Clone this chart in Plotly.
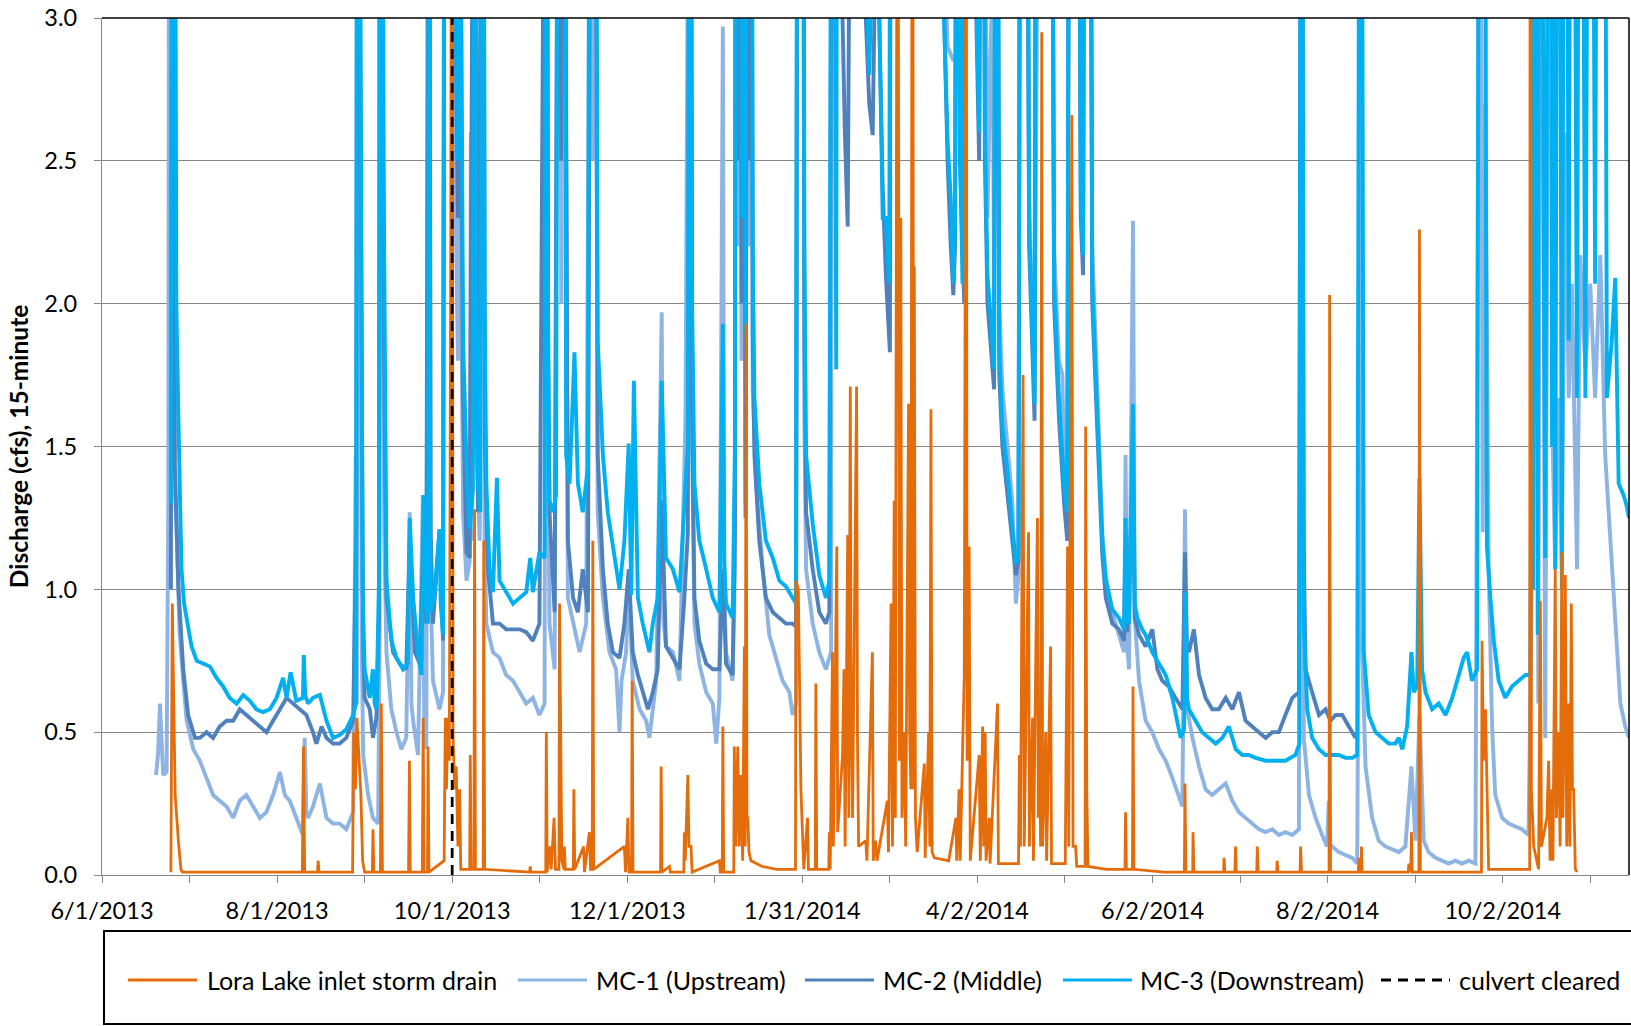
import pandas as pd
import plotly.graph_objects as go

START = "2013-06-01"
END_DAY = 532

# x tick labels (Excel date axis, 61-day major unit)
TICK_DATES = ["2013-06-01", "2013-08-01", "2013-10-01", "2013-12-01", "2014-01-31",
              "2014-04-02", "2014-06-02", "2014-08-02", "2014-10-02"]
TICK_LABELS = ["6/1/2013", "8/1/2013", "10/1/2013", "12/1/2013", "1/31/2014",
               "4/2/2014", "6/2/2014", "8/2/2014", "10/2/2014"]

CULVERT_DATE = "2013-10-01"

# (days since 6/1/2013, discharge cfs); peaks above 3.0 are off-scale
MC3 = [(24.0,1.3),(24.6,6.0),(25.4,4.0),(25.9,2.0),(26.6,1.61),(27.2,1.3),(27.7,1.07),(28.6,0.95),(29.5,0.9),(31.2,0.8),(33.0,0.75),(35.3,0.74),(37.6,0.73),(39.9,0.69),(42.2,0.66),(44.5,0.62),(46.9,0.6),(49.2,0.63),(51.5,0.61),(53.8,0.58),(56.1,0.57),(58.5,0.58),(60.8,0.62),(63.1,0.69),(64.3,0.62),(65.7,0.71),(67.7,0.61),(70.0,0.62),(70.3,0.77),(70.8,0.63),(71.8,0.6),(73.5,0.62),(75.9,0.63),(78.2,0.54),(80.5,0.48),(82.8,0.49),(85.1,0.51),(87.5,0.56),(88.5,0.6),(89.0,6.0),(89.6,4.5),(90.4,2.0),(90.8,1.0),(91.5,0.72),(93.3,0.62),(94.4,0.72),(95.0,0.6),(95.6,0.58),(96.5,1.03),(96.9,6.0),(97.6,5.0),(98.1,2.5),(99.1,1.03),(100.8,0.82),(102.6,0.76),(104.9,0.72),(106.6,0.74),(107.2,1.25),(108.4,0.97),(110.1,0.78),(111.3,0.7),(112.0,1.33),(112.4,1.0),(113.6,0.88),(113.9,6.0),(114.3,1.2),(114.7,0.92),(115.9,0.99),(117.6,1.21),(118.0,0.95),(118.8,0.84),(119.5,6.0),(120.2,4.0),(121.1,6.0),(121.8,4.0),(122.5,3.5),(123.2,3.2),(124.0,2.5),(124.6,6.0),(125.2,3.0),(125.8,1.87),(126.9,1.47),(128.1,1.21),(129.2,1.35),(129.8,6.0),(130.4,2.0),(131.0,1.37),(131.8,1.27),(132.7,6.0),(133.3,2.0),(133.9,1.37),(135.0,1.07),(136.2,0.99),(137.6,1.39),(138.5,1.03),(140.8,0.99),(143.2,0.95),(145.5,0.97),(147.8,0.99),(149.2,1.11),(150.1,0.99),(152.4,1.13),(154.2,1.11),(154.8,6.0),(155.4,2.0),(155.9,1.31),(157.1,1.27),(158.2,1.33),(159.2,6.0),(160.0,3.0),(160.8,6.0),(161.7,1.47),(162.9,1.37),(164.6,1.83),(165.8,1.37),(167.5,1.27),(169.3,1.43),(170.4,6.0),(171.0,3.5),(171.6,6.0),(172.7,1.87),(174.5,1.47),(176.2,1.27),(178.0,1.15),(180.3,1.0),(182.0,1.17),(183.5,1.51),(184.4,0.98),(185.3,1.73),(186.7,0.97),(188.4,0.88),(190.7,0.78),(191.9,0.88),(193.6,0.97),(195.0,1.73),(196.5,1.11),(198.9,1.07),(201.2,0.99),(202.9,1.27),(204.1,1.51),(204.9,6.0),(205.6,2.0),(206.4,1.37),(208.1,1.17),(210.5,1.07),(212.8,0.97),(215.1,0.92),(216.3,1.93),(216.8,1.1),(217.4,0.95),(219.7,0.9),(220.5,1.5),(220.9,6.0),(221.6,3.0),(222.1,6.0),(222.8,2.3),(223.5,6.0),(224.2,1.9),(225.0,6.0),(225.6,3.0),(226.1,6.0),(226.7,2.2),(227.3,1.67),(229.0,1.37),(231.3,1.17),(233.7,1.11),(236.0,1.03),(238.3,1.01),(240.6,0.97),(241.8,0.95),(242.4,6.0),(243.2,4.0),(244.1,6.0),(244.7,2.2),(245.3,1.47),(247.6,1.23),(249.9,1.05),(252.2,0.97),(253.4,1.03),(254.5,6.0),(255.2,3.5),(255.8,1.77),(256.3,6.0),(258.0,4.0),(260.0,3.5),(262.0,4.0),(264.0,3.5),(266.1,3.3),(267.3,2.8),(268.5,3.3),(270.0,3.2),(270.8,3.0),(272.0,2.3),(273.1,2.3),(274.3,2.07),(274.9,6.0),(276.0,4.0),(280.0,4.0),(285.0,4.0),(290.0,4.0),(292.8,3.5),(293.4,3.0),(294.6,2.57),(295.7,2.37),(296.6,2.07),(297.2,2.27),(298.0,6.0),(298.9,2.57),(299.8,2.07),(300.7,6.0),(302.0,4.0),(304.4,3.2),(305.6,2.6),(306.8,6.0),(307.6,2.6),(308.5,2.1),(309.7,1.94),(310.8,1.77),(311.6,6.0),(312.6,1.83),(313.7,1.57),(315.5,1.41),(317.2,1.21),(318.4,1.09),(319.3,1.12),(320.1,6.0),(321.0,4.0),(321.8,6.0),(323.0,2.27),(324.2,1.87),(324.9,1.65),(325.6,6.0),(326.3,3.0),(327.1,6.0),(327.6,3.0),(328.2,6.0),(328.8,3.2),(329.4,6.0),(330.0,3.0),(330.5,6.0),(331.7,2.07),(333.4,1.67),(335.2,1.37),(336.3,1.27),(337.2,6.0),(337.7,3.5),(338.1,6.0),(339.0,3.5),(339.8,6.0),(341.0,2.37),(341.8,2.17),(342.7,6.0),(343.3,3.5),(343.9,6.0),(345.0,2.07),(346.2,1.77),(347.4,1.47),(348.5,1.17),(349.7,1.03),(352.0,0.93),(354.3,0.9),(356.1,0.86),(356.6,1.25),(357.2,0.9),(357.8,0.88),(359.2,1.65),(359.8,0.95),(360.7,0.9),(362.4,0.86),(363.6,0.84),(365.9,0.78),(368.3,0.74),(370.6,0.7),(372.9,0.62),(374.6,0.54),(375.8,0.48),(377.0,0.51),(377.5,0.99),(378.0,0.62),(378.7,0.58),(381.0,0.54),(383.3,0.5),(385.7,0.48),(388.0,0.46),(390.3,0.48),(392.6,0.52),(395.0,0.44),(397.3,0.42),(399.6,0.42),(401.9,0.41),(405.4,0.4),(408.9,0.4),(412.3,0.4),(415.8,0.42),(417.2,0.46),(417.9,6.0),(418.7,0.88),(419.9,0.58),(421.6,0.48),(424.0,0.44),(426.3,0.42),(428.6,0.42),(430.9,0.42),(433.2,0.41),(435.6,0.41),(437.3,0.42),(438.5,6.0),(439.6,0.78),(441.3,0.56),(443.7,0.5),(446.0,0.48),(448.3,0.46),(450.6,0.46),(451.8,0.48),(453.0,0.44),(454.7,0.52),(456.2,0.78),(457.0,0.64),(458.2,0.66),(459.0,1.39),(459.9,0.72),(461.1,0.64),(463.4,0.58),(465.7,0.6),(468.1,0.56),(470.4,0.62),(472.7,0.7),(474.4,0.76),(475.6,0.78),(477.3,0.68),(479.1,0.72),(480.0,6.0),(481.0,4.0),(481.7,6.0),(482.2,2.2),(482.5,1.15),(483.7,0.97),(484.9,0.82),(486.6,0.68),(488.9,0.62),(491.2,0.66),(493.6,0.68),(495.9,0.7),(497.6,0.7),(498.2,1.93),(498.6,1.0),(499.4,6.0),(500.2,0.84),(501.0,6.0),(501.8,3.5),(502.8,1.11),(504.6,6.0),(505.2,1.5),(505.7,6.0),(506.3,1.07),(507.5,6.0),(508.6,1.0),(509.8,6.0),(511.0,1.87),(512.1,6.0),(513.9,1.67),(515.0,6.0),(516.8,1.67),(518.5,6.0),(520.2,2.07),(521.4,6.0),(522.2,3.0),(523.1,6.0),(524.3,1.67),(526.0,1.87),(527.2,2.09),(528.4,1.37),(530.1,1.33),(531.0,1.3),(532.0,1.25)]

MC2 = [(24.0,1.0),(24.6,5.0),(25.4,1.43),(26.6,1.01),(28.3,0.72),(30.0,0.56),(32.4,0.48),(34.1,0.48),(36.4,0.5),(38.7,0.48),(41.0,0.52),(43.4,0.54),(45.7,0.54),(48.0,0.58),(50.3,0.56),(52.7,0.54),(55.0,0.52),(57.3,0.5),(59.6,0.54),(62.0,0.58),(64.3,0.62),(66.6,0.6),(68.9,0.58),(71.2,0.56),(73.5,0.5),(74.7,0.46),(76.5,0.52),(78.2,0.48),(80.5,0.46),(82.8,0.46),(85.1,0.48),(87.5,0.54),(88.6,1.23),(89.0,5.0),(89.6,3.5),(90.4,1.5),(91.0,0.8),(91.5,0.62),(93.3,0.58),(94.4,0.48),(95.6,0.55),(96.5,0.9),(96.9,5.0),(97.6,4.0),(98.1,2.0),(99.1,0.97),(101.4,0.78),(103.7,0.74),(106.0,0.72),(107.2,1.17),(109.0,0.78),(110.7,0.74),(112.0,1.19),(113.0,0.88),(113.9,5.0),(114.5,1.2),(115.3,0.88),(117.6,1.21),(118.8,0.82),(119.5,5.0),(120.5,3.5),(121.1,5.0),(122.0,3.5),(123.0,3.2),(124.0,2.3),(124.6,5.0),(125.2,2.5),(125.8,1.67),(127.0,1.13),(128.1,1.11),(129.8,5.0),(130.4,1.8),(131.0,1.27),(132.7,5.0),(133.4,1.5),(134.5,1.07),(136.2,0.88),(138.5,0.88),(140.8,0.86),(143.2,0.86),(145.5,0.86),(147.8,0.85),(150.1,0.82),(152.4,0.88),(154.8,5.0),(155.4,1.8),(155.9,1.27),(157.7,0.92),(159.2,5.0),(160.0,2.5),(160.8,5.0),(162.3,1.17),(164.1,0.97),(165.8,0.92),(167.5,1.07),(169.3,0.92),(170.4,5.0),(171.0,3.0),(171.6,5.0),(172.7,1.47),(174.5,1.07),(176.2,0.88),(178.0,0.78),(180.3,0.76),(182.0,0.88),(183.5,1.07),(184.9,0.78),(186.7,0.7),(188.4,0.64),(190.2,0.58),(191.9,0.64),(193.6,0.72),(195.0,1.31),(196.5,0.8),(198.9,0.76),(201.2,0.72),(202.9,0.97),(204.1,1.2),(204.9,5.0),(205.6,1.6),(206.4,0.97),(208.1,0.82),(210.5,0.74),(212.8,0.72),(215.1,0.72),(216.3,1.07),(217.4,0.74),(219.7,0.7),(220.5,1.2),(220.9,5.0),(221.6,2.5),(222.1,5.0),(222.8,2.0),(223.5,5.0),(224.2,1.25),(225.0,5.0),(225.6,2.5),(226.1,5.0),(226.7,1.9),(227.3,1.47),(229.0,1.17),(231.3,0.97),(233.7,0.92),(236.0,0.9),(238.3,0.88),(240.6,0.88),(241.8,0.87),(242.4,5.0),(243.2,3.5),(244.1,5.0),(244.7,1.9),(245.3,1.27),(247.6,1.07),(249.9,0.92),(252.2,0.88),(253.4,0.92),(254.5,5.0),(255.5,3.5),(256.3,5.0),(258.0,3.0),(258.8,2.6),(259.8,2.27),(260.5,3.5),(263.0,4.0),(265.0,3.5),(266.1,3.0),(267.3,2.7),(268.5,2.59),(269.5,3.3),(270.8,3.0),(272.0,2.4),(273.1,2.1),(274.5,1.83),(274.9,5.0),(276.0,4.0),(285.0,4.0),(292.8,3.5),(293.4,3.0),(294.6,2.5),(295.7,2.2),(296.6,2.03),(297.2,2.2),(298.0,5.0),(298.9,2.5),(300.4,2.0),(300.7,5.0),(302.0,4.0),(304.4,3.1),(305.6,2.5),(306.8,5.0),(307.6,2.5),(308.5,2.0),(309.7,1.85),(310.8,1.7),(311.6,5.0),(312.6,1.75),(313.7,1.5),(315.5,1.33),(317.2,1.15),(318.4,1.05),(319.3,1.1),(320.1,5.0),(321.0,3.5),(321.8,5.0),(323.0,2.2),(324.2,1.8),(324.9,1.59),(325.6,5.0),(326.3,3.0),(327.1,5.0),(328.2,3.2),(329.4,5.0),(330.5,5.0),(331.7,2.0),(333.4,1.6),(335.2,1.3),(336.3,1.17),(337.2,5.0),(338.1,5.0),(339.0,3.5),(339.8,5.0),(341.0,2.3),(341.8,2.1),(342.7,5.0),(343.9,5.0),(345.0,2.0),(346.2,1.7),(347.4,1.4),(348.5,1.12),(349.7,0.97),(352.0,0.88),(354.3,0.86),(356.1,0.82),(356.6,1.15),(357.2,0.85),(359.2,1.4),(359.8,0.9),(361.3,0.84),(363.6,0.8),(365.9,0.86),(367.7,0.72),(369.4,0.68),(371.7,0.66),(374.0,0.62),(376.4,0.58),(377.3,1.13),(378.0,0.8),(378.7,0.78),(380.4,0.86),(382.2,0.7),(384.5,0.62),(386.8,0.58),(389.1,0.58),(391.5,0.62),(393.8,0.58),(396.1,0.64),(398.4,0.54),(400.7,0.52),(403.1,0.5),(405.4,0.48),(407.7,0.5),(410.0,0.5),(412.3,0.56),(414.7,0.62),(417.0,0.64),(417.9,5.0),(418.6,1.2),(419.3,0.72),(421.6,0.64),(424.0,0.56),(426.3,0.58),(428.0,0.54),(429.8,0.56),(432.1,0.56),(434.4,0.52),(436.7,0.48),(437.5,0.5)]

MC1 = [(18.8,0.35),(19.5,0.42),(20.2,0.6),(21.3,0.35),(22.5,0.36),(23.1,1.3),(23.5,5.0),(24.0,2.0),(24.3,2.7),(24.8,1.5),(26.0,1.2),(27.0,0.85),(28.3,0.68),(29.5,0.54),(31.8,0.44),(34.1,0.4),(36.4,0.34),(38.7,0.28),(41.0,0.26),(43.4,0.24),(45.7,0.2),(48.0,0.26),(50.3,0.28),(52.7,0.24),(55.0,0.2),(57.3,0.22),(59.6,0.28),(62.0,0.36),(63.7,0.28),(65.4,0.26),(67.7,0.2),(70.0,0.14),(70.6,0.48),(71.2,0.22),(71.8,0.2),(73.5,0.24),(75.9,0.32),(78.2,0.2),(80.5,0.18),(82.8,0.18),(85.1,0.16),(87.5,0.22),(88.4,1.47),(88.8,0.6),(89.2,5.0),(89.8,2.5),(90.5,0.8),(91.0,0.42),(92.7,0.28),(94.4,0.2),(96.2,0.18),(96.7,0.8),(97.0,5.0),(97.8,3.0),(98.3,1.2),(99.1,0.78),(100.8,0.58),(102.6,0.5),(104.3,0.44),(106.0,0.48),(107.2,1.27),(107.8,0.6),(108.4,0.54),(110.1,0.42),(111.8,1.33),(112.3,0.5),(113.0,0.44),(113.9,5.0),(114.5,1.0),(115.3,0.68),(117.6,0.58),(118.8,0.64),(119.5,5.0),(120.5,3.0),(121.1,5.0),(122.0,3.0),(123.0,2.5),(124.0,1.8),(124.6,5.0),(125.2,2.0),(125.8,1.27),(127.0,1.03),(128.1,1.1),(128.5,2.6),(129.0,1.17),(129.8,5.0),(130.4,1.5),(131.6,1.17),(132.7,5.0),(133.3,1.2),(133.9,0.88),(136.2,0.78),(138.5,0.76),(140.8,0.7),(143.2,0.68),(145.5,0.64),(147.8,0.6),(150.1,0.62),(152.4,0.56),(154.2,0.6),(154.8,5.0),(155.4,1.5),(155.9,0.88),(157.7,0.72),(159.2,5.0),(160.0,2.0),(160.8,5.0),(162.3,0.97),(164.1,0.88),(166.4,0.78),(168.7,0.88),(170.4,5.0),(171.0,2.5),(171.6,5.0),(172.7,1.27),(174.5,0.97),(176.8,0.78),(179.1,0.72),(180.3,0.5),(181.0,0.68),(182.6,0.78),(183.5,1.03),(184.9,0.68),(187.3,0.58),(189.6,0.54),(190.7,0.48),(193.1,0.68),(195.0,1.97),(195.5,0.9),(196.5,0.8),(198.9,0.78),(201.2,0.68),(203.3,1.61),(204.9,5.0),(205.6,1.5),(206.4,0.88),(208.1,0.74),(210.5,0.64),(212.8,0.6),(214.0,0.46),(215.1,0.62),(216.3,2.97),(216.8,1.0),(217.4,0.78),(219.7,0.68),(220.5,1.07),(220.9,5.0),(221.6,2.2),(222.1,5.0),(222.8,1.8),(223.5,5.0),(224.2,1.3),(225.0,5.0),(225.6,2.2),(226.1,5.0),(226.7,1.7),(227.9,1.37),(230.2,1.07),(232.5,0.84),(234.8,0.76),(237.1,0.68),(239.5,0.64),(240.6,0.56),(241.8,0.6),(242.4,5.0),(243.2,3.0),(244.1,5.0),(244.7,1.6),(245.3,1.07),(247.6,0.88),(249.9,0.78),(252.2,0.72),(254.0,0.78),(254.5,5.0),(256.3,5.0),(260.0,4.0),(270.0,4.0),(274.5,3.5),(276.0,4.0),(292.8,3.5),(294.6,2.9),(296.6,2.85),(298.9,2.9),(300.4,2.8),(301.0,4.0),(304.4,3.2),(306.8,5.0),(308.5,2.3),(310.2,3.2),(310.8,2.0),(311.6,5.0),(312.6,2.0),(313.7,1.7),(315.5,1.5),(317.2,1.3),(318.4,0.95),(319.3,1.05),(320.1,5.0),(321.8,5.0),(323.0,2.4),(324.2,1.9),(324.9,1.75),(325.6,5.0),(327.1,5.0),(328.2,3.5),(329.4,5.0),(330.5,5.0),(331.7,2.2),(333.4,1.8),(334.6,1.75),(335.2,1.4),(336.3,1.27),(337.2,5.0),(338.1,5.0),(339.8,5.0),(341.0,2.5),(342.7,5.0),(343.9,5.0),(345.0,2.2),(346.2,1.85),(347.4,1.5),(348.5,1.2),(349.7,1.05),(352.0,0.92),(354.3,0.84),(356.1,0.78),(356.6,1.47),(357.2,0.8),(357.8,0.72),(359.2,2.29),(359.8,0.9),(361.3,0.68),(363.6,0.54),(365.9,0.5),(368.3,0.44),(370.6,0.4),(372.9,0.34),(375.2,0.28),(376.4,0.24),(377.3,1.28),(377.8,0.7),(378.1,0.58),(379.9,0.48),(382.2,0.38),(384.5,0.3),(386.8,0.28),(389.1,0.3),(391.5,0.32),(393.8,0.26),(396.1,0.22),(398.4,0.2),(400.7,0.18),(403.1,0.16),(405.4,0.15),(407.7,0.16),(410.0,0.14),(412.3,0.15),(414.7,0.14),(417.0,0.16),(417.9,5.0),(418.7,0.48),(420.5,0.28),(422.8,0.2),(425.1,0.14),(426.8,0.1),(427.4,0.26),(428.0,0.1),(428.6,0.1),(430.9,0.08),(433.2,0.07),(435.6,0.06),(437.3,0.04),(438.1,1.47),(438.5,5.0),(439.0,0.8),(440.2,0.38),(442.5,0.2),(444.8,0.12),(447.1,0.1),(449.5,0.09),(451.8,0.08),(454.1,0.1),(456.2,0.38),(457.6,0.12),(459.0,0.56),(460.5,0.12),(462.2,0.08),(464.6,0.06),(466.9,0.05),(469.2,0.04),(471.5,0.05),(473.8,0.04),(476.2,0.05),(478.5,0.04),(480.2,5.0),(481.0,1.2),(482.0,2.7),(483.1,1.07),(484.3,0.52),(485.4,0.28),(487.8,0.2),(490.1,0.18),(492.4,0.17),(494.7,0.16),(497.0,0.14),(498.2,1.07),(499.4,5.0),(500.4,0.6),(501.4,5.0),(502.8,0.48),(504.6,5.0),(505.2,1.6),(506.3,1.07),(507.5,1.67),(508.6,1.07),(509.8,2.6),(511.0,1.67),(512.1,2.07),(513.9,1.07),(515.0,2.17),(516.8,1.77),(518.5,2.07),(520.2,1.67),(522.0,2.17),(523.7,1.47),(526.0,1.07),(527.8,0.78),(529.0,0.6),(530.7,0.52),(532.0,0.48)]

LORA = [(24.0,0.01),(24.5,0.95),(25.0,0.6),(25.5,0.28),(26.6,0.12),(27.5,0.02),(28.0,0.01),(40.0,0.01),(60.0,0.008),(69.8,0.01),(70.2,0.45),(70.6,0.01),(75.1,0.01),(75.3,0.05),(75.6,0.01),(87.3,0.01),(87.7,0.5),(88.3,0.3),(88.8,0.55),(89.5,0.4),(90.2,0.28),(90.8,0.05),(91.5,0.01),(94.2,0.01),(94.4,0.16),(94.7,0.01),(97.0,0.01),(97.3,0.6),(97.7,0.01),(106.8,0.01),(107.1,0.4),(107.4,0.01),(111.6,0.01),(111.9,0.55),(112.2,0.01),(113.4,0.01),(113.6,0.45),(113.9,0.01),(119.2,0.05),(119.6,0.55),(120.0,0.3),(120.5,0.55),(121.0,0.4),(121.5,2.2),(121.9,5.0),(122.3,0.5),(122.8,0.3),(123.4,0.38),(124.0,0.1),(124.6,0.3),(125.0,0.02),(128.1,0.02),(128.3,0.42),(128.6,0.02),(129.6,0.02),(129.8,1.28),(130.1,0.02),(132.8,0.02),(133.0,1.17),(133.3,0.02),(149.0,0.01),(149.2,0.03),(149.4,0.01),(154.6,0.01),(154.8,0.5),(155.1,0.01),(156.0,0.1),(156.5,0.02),(157.5,0.2),(158.0,0.02),(159.2,0.02),(159.4,0.95),(159.8,0.3),(160.2,0.05),(161.0,0.02),(161.1,0.1),(161.4,0.02),(164.2,0.02),(164.4,0.3),(164.7,0.02),(167.8,0.1),(168.1,0.01),(169.8,0.15),(170.2,0.02),(170.8,0.02),(171.0,1.17),(171.3,0.02),(182.0,0.1),(182.4,0.01),(183.2,0.2),(183.6,0.01),(184.5,0.01),(184.7,0.68),(185.0,0.01),(194.6,0.01),(194.8,0.38),(195.1,0.01),(197.7,0.03),(198.0,0.01),(202.7,0.01),(202.9,0.15),(203.2,0.05),(204.1,0.35),(204.5,0.1),(205.2,0.1),(205.6,0.01),(215.1,0.05),(215.4,0.01),(216.1,0.01),(216.3,0.52),(216.6,0.01),(220.1,0.01),(220.3,0.45),(220.8,0.1),(221.5,0.45),(222.0,0.1),(222.6,0.35),(223.2,0.05),(223.8,0.8),(224.1,0.1),(224.4,1.93),(224.7,0.2),(225.0,0.2),(225.4,0.08),(226.1,0.05),(230.0,0.03),(235.0,0.02),(241.6,0.02),(241.8,1.03),(242.6,1.0),(243.5,0.3),(244.1,0.15),(244.5,0.02),(245.8,0.2),(246.1,0.02),(248.5,0.02),(248.7,0.67),(249.0,0.02),(253.2,0.02),(253.4,0.15),(253.7,0.02),(254.5,0.78),(254.8,0.1),(256.0,1.15),(256.3,0.15),(258.0,0.42),(258.5,0.72),(258.9,0.1),(259.8,1.19),(260.2,0.2),(260.7,1.71),(261.0,0.62),(261.5,0.2),(262.9,1.71),(263.2,0.48),(263.6,0.1),(266.1,0.12),(266.5,0.05),(268.4,0.78),(268.7,0.05),(269.5,0.12),(270.0,0.05),(273.6,0.26),(274.0,0.08),(274.9,0.95),(275.4,0.1),(276.0,1.31),(276.4,0.2),(277.2,5.0),(277.8,0.4),(278.3,2.3),(278.7,0.2),(279.5,0.5),(280.0,0.1),(281.0,1.65),(281.4,0.5),(281.8,0.3),(282.4,5.0),(282.8,0.3),(283.0,2.13),(283.4,0.2),(284.0,0.08),(286.5,0.39),(286.8,0.06),(288.0,0.5),(288.4,0.1),(288.8,1.63),(289.2,0.08),(290.0,0.06),(295.0,0.05),(297.5,0.2),(297.8,0.05),(298.6,0.3),(299.0,0.05),(300.4,0.7),(300.7,2.0),(301.0,5.0),(301.4,0.4),(302.1,1.15),(302.5,0.05),(305.6,0.42),(306.0,0.05),(306.8,0.52),(307.2,0.1),(307.7,0.5),(308.0,0.05),(309.1,0.2),(309.4,0.04),(312.0,0.6),(312.3,0.04),(319.3,0.04),(319.6,0.42),(320.0,0.1),(320.9,1.75),(321.3,0.1),(322.8,1.2),(323.1,0.1),(324.2,0.55),(324.5,0.05),(325.9,1.25),(326.2,0.2),(326.5,0.5),(327.0,0.1),(327.4,2.95),(327.7,0.1),(328.8,0.5),(329.1,0.05),(330.5,0.8),(330.8,0.04),(335.6,0.04),(335.8,0.35),(336.4,1.15),(336.8,0.1),(337.9,2.66),(338.3,0.1),(339.2,0.1),(339.6,0.03),(342.5,0.03),(342.7,1.57),(343.1,0.3),(343.5,0.03),(350.0,0.02),(356.4,0.02),(356.6,0.22),(356.9,0.02),(359.0,0.02),(359.2,0.66),(359.5,0.02),(370.0,0.01),(377.1,0.01),(377.3,0.32),(377.6,0.01),(380.0,0.01),(380.1,0.15),(380.4,0.01),(390.8,0.01),(390.9,0.06),(391.2,0.01),(394.7,0.01),(394.9,0.1),(395.2,0.01),(402.3,0.01),(402.5,0.1),(402.8,0.01),(409.3,0.01),(409.4,0.05),(409.7,0.01),(417.4,0.01),(417.6,0.1),(417.9,0.01),(427.5,0.01),(427.7,2.03),(428.0,0.01),(437.7,0.01),(437.9,0.06),(438.1,0.01),(438.7,0.01),(438.8,0.1),(439.0,0.01),(455.1,0.01),(455.3,0.04),(456.0,0.01),(456.2,0.15),(456.5,0.01),(458.8,0.01),(459.0,2.26),(459.3,0.01),(480.6,0.01),(480.8,0.82),(481.3,0.4),(482.0,0.58),(482.5,0.3),(483.1,0.02),(497.4,0.02),(497.6,5.0),(498.0,0.3),(498.8,0.1),(500.5,0.02),(501.1,0.96),(501.5,0.1),(503.4,0.2),(504.0,0.4),(504.5,0.05),(505.2,0.3),(505.5,0.05),(506.3,1.07),(506.7,0.2),(507.5,0.5),(508.0,0.1),(508.6,1.13),(509.0,0.2),(509.8,1.05),(510.3,0.1),(511.0,0.6),(511.4,0.1),(511.9,0.95),(512.3,0.3),(512.7,0.3),(513.3,0.02),(513.9,0.01)]

start = pd.Timestamp(START)


def xy(pairs):
    days = [p[0] for p in pairs]
    vals = [p[1] for p in pairs]
    return [start + pd.Timedelta(days=d) for d in days], vals


GRID = "#868686"
FONT = "Lato"
FS = 23.5
LEG_FS = 25

# figure geometry (px)
W, H = 1631, 1026
ML, MR, MT, MB = 102, 2, 18, 151
PW, PH = W - ML - MR, H - MT - MB


def px_x(px):
    return (px - ML) / PW


def px_y(py):
    return (H - MB - py) / PH


CULVERT_DASH = "10px,7px"

# name, data, colour, width, legend line start px, legend text start px
SERIES = [
    ("MC-1 (Upstream)", MC1, "#8DB4E2", 3.9, 518, 594),
    ("MC-2 (Middle)", MC2, "#4F81BD", 3.9, 805, 881),
    ("MC-3 (Downstream)", MC3, "#00B0F0", 3.9, 1063, 1138),
    ("Lora Lake inlet storm drain", LORA, "#E46C0A", 2.8, 128, 205),
]

fig = go.Figure()
for name, data, color, w, _, _ in SERIES:
    x, y = xy(data)
    fig.add_trace(go.Scatter(x=x, y=y, mode="lines", name=name, showlegend=False,
                             line=dict(color=color, width=w)))

fig.add_trace(go.Scatter(x=[CULVERT_DATE, CULVERT_DATE], y=[0, 3], mode="lines",
                         name="culvert cleared", showlegend=False,
                         line=dict(color="black", width=2.75, dash=CULVERT_DASH)))

tick_ts = [pd.Timestamp(t) for t in TICK_DATES]
minor_ts = [a + (b - a) / 2 for a, b in zip(tick_ts[:-1], tick_ts[1:])]
minor_ts.append(tick_ts[-1] + (tick_ts[-1] - tick_ts[-2]) / 2)

# legend (boxed key below the plot)
LEG_Y = 980
legend_items = [(s[0], s[2], s[4], s[5], None) for s in SERIES]
legend_items = [legend_items[3]] + legend_items[:3] + [("culvert cleared", "black", 1381, 1457, CULVERT_DASH)]
shapes = [
    dict(type="line", xref="paper", yref="paper", x0=0, x1=1, y0=1, y1=1,
         line=dict(color="black", width=1.5)),
    dict(type="line", xref="paper", yref="paper", x0=1, x1=1, y0=0, y1=1,
         line=dict(color="black", width=1.5)),
    dict(type="rect", xref="paper", yref="paper",
         x0=px_x(104), x1=px_x(1660), y0=px_y(1024), y1=px_y(931),
         line=dict(color="black", width=2), fillcolor="rgba(0,0,0,0)"),
]
annotations = []
for label, color, lx, tx, dash in legend_items:
    ln = dict(color=color, width=3 if dash else 3.2)
    if dash:
        ln["dash"] = dash
    shapes.append(dict(type="line", xref="paper", yref="paper",
                       x0=px_x(lx), x1=px_x(lx + 69), y0=px_y(LEG_Y), y1=px_y(LEG_Y), line=ln))
    annotations.append(dict(text=label, xref="paper", yref="paper", x=px_x(tx), y=px_y(LEG_Y),
                            xanchor="left", yanchor="middle", showarrow=False,
                            font=dict(family=FONT, size=LEG_FS, color="black")))

fig.update_layout(
    width=W, height=H,
    margin=dict(l=ML, r=MR, t=MT, b=MB),
    paper_bgcolor="white", plot_bgcolor="white",
    font=dict(family=FONT, size=FS, color="black"),
    showlegend=False,
    xaxis=dict(type="date", range=[start, start + pd.Timedelta(days=END_DAY)],
               tickmode="array", tickvals=tick_ts, ticktext=TICK_LABELS,
               ticks="outside", ticklen=7, tickwidth=1.3, tickcolor=GRID,
               showline=True, linecolor=GRID, linewidth=1.3, showgrid=False,
               zeroline=False, ticklabelstandoff=8,
               tickfont=dict(family=FONT, size=FS, color="black"),
               minor=dict(tickvals=minor_ts, ticks="outside", ticklen=7,
                          tickcolor=GRID, tickwidth=1.3, showgrid=False)),
    yaxis=dict(range=[0, 3], tickmode="linear", tick0=0, dtick=0.5, tickformat=".1f",
               showgrid=True, gridcolor=GRID, gridwidth=1.3,
               showline=True, linecolor=GRID, linewidth=1.3, zeroline=False,
               ticks="outside", ticklen=7, tickwidth=1.3, tickcolor=GRID,
               ticklabelstandoff=12,
               tickfont=dict(family=FONT, size=FS, color="black"),
               title=dict(text="Discharge (cfs), 15-minute", standoff=8,
                          font=dict(family=FONT, size=24.5, color="black", weight="bold"))),
    shapes=shapes,
    annotations=annotations,
)

fig.write_html("out.html", config={"displayModeBar": False},
               post_script="document.body.style.margin='0';document.body.style.overflow='hidden';")
